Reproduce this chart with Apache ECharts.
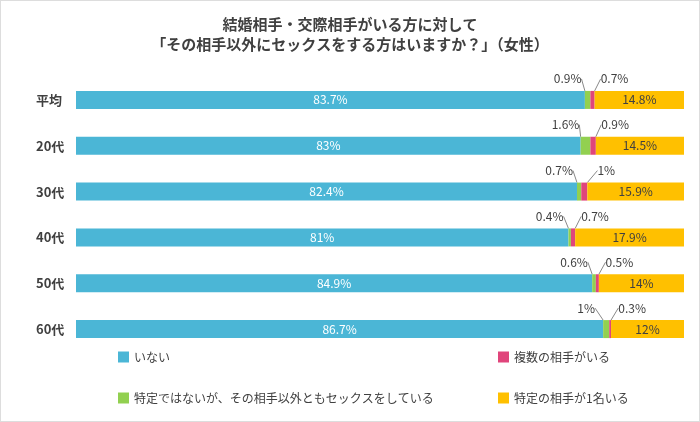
<!DOCTYPE html>
<html><head><meta charset="utf-8">
<script src="https://cdn.jsdelivr.net/npm/echarts@6/dist/echarts.min.js"></script>
<style>html,body{margin:0;padding:0;background:#fff}#c{width:700px;height:422px;box-sizing:border-box;border:1px solid #ddd}</style>
</head><body><div id="c"></div>
<script>
const categories = ['平均','20代','30代','40代','50代','60代'];
const none = [83.7,83,82.4,81,84.9,86.7];
const unspecified = [0.9,1.6,0.7,0.4,0.6,1];
const multiple = [0.7,0.9,1,0.7,0.5,0.3];
const one = [14.8,14.5,15.9,17.9,14,12];
const names = ['いない','特定ではないが、その相手以外ともセックスをしている','複数の相手がいる','特定の相手が1名いる'];
const colors = ['#4bb6d6','#92d050','#e0457b','#ffc000'];
const font = '"Noto Sans CJK JP", sans-serif';
const chart = echarts.init(document.getElementById('c'));
function ser(i, data, label, layout){
  return {name:names[i], type:'bar', stack:'a', barWidth:18, data:data, itemStyle:{color:colors[i]},
    label:Object.assign({show:true, fontSize:12, color:'#404040', fontFamily:font, formatter:p=>p.value+'%'}, label),
    labelLayout:layout, labelLine:{show:!!layout, lineStyle:{color:'#888', width:1}}};
}
chart.setOption({
  animation:false,
  textStyle:{fontFamily:font},
  title:{text:'結婚相手・交際相手がいる方に対して\n「その相手以外にセックスをする方はいますか？」（女性）', left:'center', top:8,
    textStyle:{fontSize:15, fontWeight:'bold', color:'#404040', lineHeight:20, fontFamily:font}},
  grid:{left:75, right:15, top:76, bottom:69},
  xAxis:{type:'value', min:0, max:100, show:false},
  yAxis:{type:'category', data:categories, inverse:true, axisLine:{show:false}, axisTick:{show:false},
    axisLabel:{fontWeight:'bold', fontSize:13, color:'#404040', margin:40, align:'left', fontFamily:font}},
  legend:[
    {data:[names[0]], left:112, top:345, icon:'rect', itemWidth:11, itemHeight:11, textStyle:{fontSize:12, color:'#404040'}},
    {data:[names[2]], left:492, top:345, icon:'rect', itemWidth:11, itemHeight:11, textStyle:{fontSize:12, color:'#404040'}},
    {data:[names[1]], left:112, top:386, icon:'rect', itemWidth:11, itemHeight:11, textStyle:{fontSize:12, color:'#404040'}},
    {data:[names[3]], left:492, top:386, icon:'rect', itemWidth:11, itemHeight:11, textStyle:{fontSize:12, color:'#404040'}}
  ],
  series:[
    ser(0, none, {position:'inside', color:'#fff'}),
    ser(1, unspecified, {position:'top'}, {dx:-20, dy:-1}),
    ser(2, multiple, {position:'top'}, {dx:22, dy:-1}),
    ser(3, one, {position:'inside', color:'#404040'})
  ]
});
</script></body></html>
